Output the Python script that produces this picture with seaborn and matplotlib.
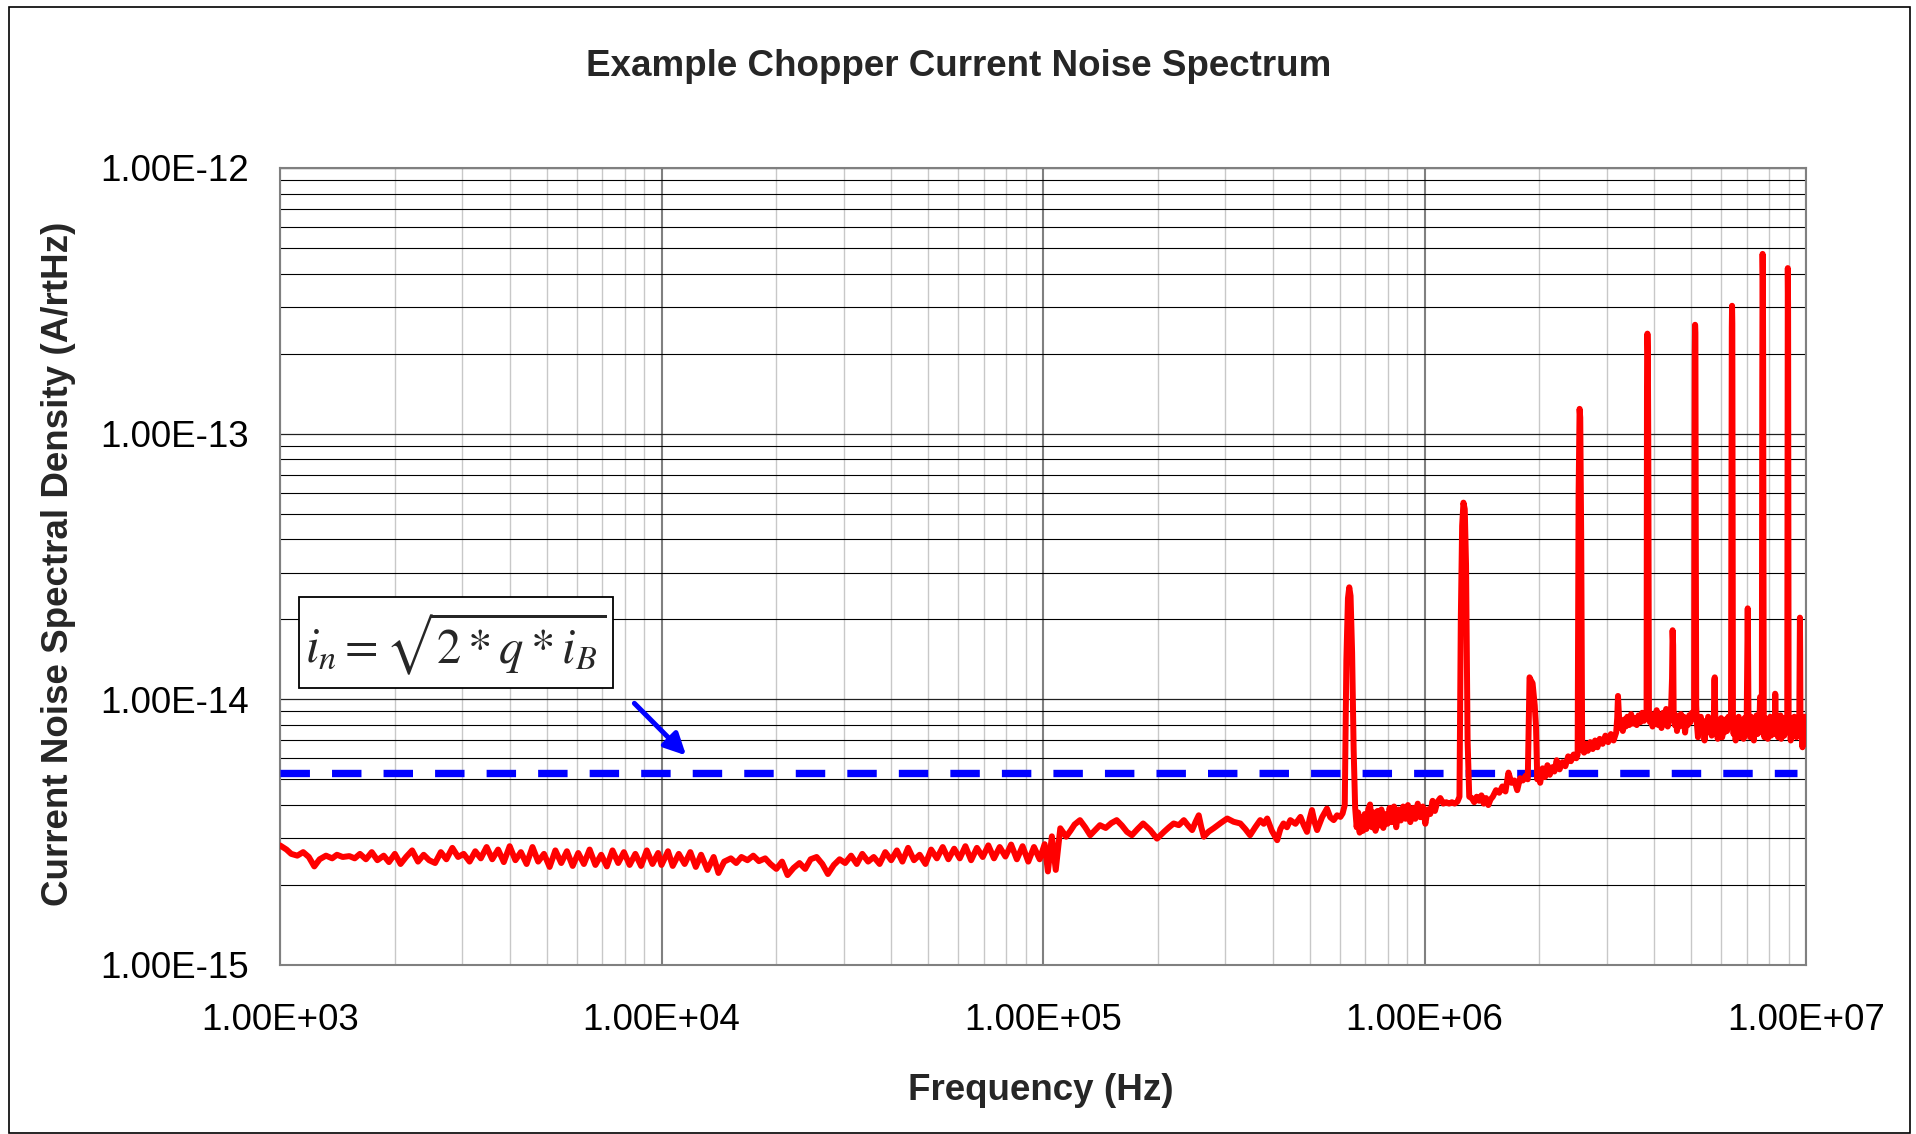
import numpy as np
import pandas as pd
import matplotlib
matplotlib.use("Agg")
import matplotlib.pyplot as plt
import seaborn as sns
from matplotlib.patches import Rectangle
from matplotlib.ticker import LogLocator, FixedLocator, FuncFormatter, NullFormatter

# ---------------- data (frequency in Hz, noise in fA/rtHz) ----------------
FREQ_1K_10K = [1000, 1040, 1070, 1110, 1150, 1190, 1230, 1270, 1320, 1370,
               1410, 1460, 1520, 1570, 1620, 1680, 1740, 1800, 1870, 1930,
               2000, 2070, 2140, 2220, 2300, 2380, 2460, 2550, 2640, 2730,
               2830, 2930, 3030, 3140, 3250, 3360, 3480, 3600, 3730, 3860,
               4000, 4140, 4280, 4430, 4590, 4750, 4920, 5090, 5270, 5460,
               5650, 5850, 6050, 6260, 6480, 6710, 6950, 7190, 7440, 7700,
               7970, 8250, 8540, 8840, 9150, 9470, 9800]
NOISE_1K_10K = [2.82, 2.72, 2.62, 2.58, 2.66, 2.55, 2.35, 2.50, 2.58, 2.52,
                2.60, 2.55, 2.57, 2.52, 2.62, 2.50, 2.66, 2.48, 2.58, 2.44,
                2.62, 2.40, 2.55, 2.70, 2.45, 2.60, 2.48, 2.42, 2.66, 2.50,
                2.76, 2.55, 2.62, 2.45, 2.68, 2.52, 2.78, 2.50, 2.72, 2.44,
                2.80, 2.48, 2.66, 2.40, 2.78, 2.45, 2.62, 2.34, 2.70, 2.42,
                2.68, 2.36, 2.64, 2.40, 2.72, 2.38, 2.60, 2.35, 2.70, 2.42,
                2.66, 2.38, 2.62, 2.36, 2.70, 2.40, 2.64]

FREQ_10K_110K = [10000, 10400, 10700, 11100, 11500, 11900, 12300, 12700, 13200, 13700,
                 14100, 14600, 15200, 15700, 16200, 16800, 17400, 18000, 18700, 19300,
                 20000, 20700, 21400, 22200, 23000, 23800, 24600, 25500, 26400, 27300,
                 28300, 29300, 30300, 31400, 32500, 33600, 34800, 36000, 37300, 38600,
                 40000, 41400, 42800, 44300, 45900, 47500, 49200, 50900, 52700, 54600,
                 56500, 58500, 60500, 62600, 64800, 67100, 69500, 71900, 74400, 77000,
                 79700, 82500, 85400, 88400, 91500, 94700, 98000, 101000, 103000, 105500,
                 108000]
NOISE_10K_110K = [2.38, 2.68, 2.36, 2.62, 2.40, 2.66, 2.34, 2.60, 2.28, 2.55,
                  2.22, 2.45, 2.52, 2.42, 2.55, 2.48, 2.58, 2.46, 2.52, 2.40,
                  2.30, 2.45, 2.18, 2.32, 2.42, 2.30, 2.50, 2.55, 2.40, 2.20,
                  2.38, 2.50, 2.42, 2.58, 2.40, 2.62, 2.45, 2.55, 2.40, 2.66,
                  2.48, 2.70, 2.45, 2.76, 2.48, 2.60, 2.40, 2.72, 2.52, 2.78,
                  2.50, 2.74, 2.52, 2.80, 2.48, 2.76, 2.55, 2.82, 2.52, 2.78,
                  2.56, 2.84, 2.50, 2.80, 2.45, 2.78, 2.50, 2.85, 2.25, 3.05,
                  2.28]

FREQ_110K_660K = [1.11e5, 1.13e5, 1.15e5, 1.18e5, 1.21e5, 1.25e5, 1.29e5, 1.33e5, 1.37e5, 1.41e5,
                  1.46e5, 1.51e5, 1.56e5, 1.61e5, 1.66e5, 1.71e5, 1.77e5, 1.83e5, 1.91e5, 1.99e5,
                  2.08e5, 2.14e5, 2.20e5, 2.27e5, 2.34e5, 2.40e5, 2.46e5, 2.51e5, 2.56e5, 2.60e5,
                  2.64e5, 2.72e5, 2.80e5, 2.92e5, 3.04e5, 3.16e5, 3.29e5, 3.39e5, 3.49e5, 3.60e5,
                  3.71e5, 3.79e5, 3.87e5, 3.98e5, 4.11e5, 4.19e5, 4.27e5, 4.36e5, 4.45e5, 4.59e5,
                  4.73e5, 4.83e5, 4.92e5, 5.00e5, 5.07e5, 5.15e5, 5.23e5, 5.39e5, 5.55e5, 5.66e5,
                  5.78e5, 5.90e5, 6.02e5, 6.10e5,
                  6.18e5, 6.24e5, 6.30e5, 6.35e5, 6.40e5, 6.46e5, 6.52e5, 6.58e5]
NOISE_110K_660K = [3.27, 3.15, 3.04, 3.20, 3.38, 3.51, 3.30, 3.08, 3.22, 3.36,
                   3.28, 3.42, 3.51, 3.35, 3.17, 3.08, 3.25, 3.41, 3.22, 2.99,
                   3.18, 3.30, 3.41, 3.36, 3.51, 3.35, 3.22, 3.45, 3.66, 3.30,
                   3.04, 3.18, 3.27, 3.42, 3.56, 3.46, 3.41, 3.25, 3.08, 3.30,
                   3.51, 3.40, 3.56, 3.20, 2.95, 3.25, 3.41, 3.30, 3.51, 3.40,
                   3.61, 3.35, 3.17, 3.55, 3.83, 3.45, 3.22, 3.60, 3.88, 3.60,
                   3.51, 3.66, 3.61, 3.72,
                   4.00, 14.0, 24.0, 26.4, 24.5, 15.0, 6.5, 3.9]

FREQ_660K_2M = [6.64e5, 6.70e5, 6.76e5, 6.83e5, 6.90e5, 6.97e5, 7.04e5, 7.12e5, 7.20e5, 7.28e5,
                7.36e5, 7.44e5, 7.53e5, 7.62e5, 7.71e5, 7.80e5, 7.90e5, 8.00e5, 8.10e5, 8.21e5,
                8.32e5, 8.43e5, 8.55e5, 8.67e5, 8.79e5, 8.92e5, 9.05e5, 9.18e5, 9.32e5, 9.46e5,
                9.60e5, 9.75e5, 9.90e5, 1.005e6, 1.02e6, 1.035e6, 1.05e6, 1.065e6, 1.08e6, 1.10e6,
                1.12e6, 1.14e6, 1.16e6, 1.18e6, 1.20e6, 1.22e6,
                1.235e6, 1.245e6, 1.255e6, 1.265e6, 1.275e6, 1.285e6, 1.297e6, 1.31e6,
                1.33e6, 1.35e6, 1.37e6, 1.39e6, 1.41e6, 1.43e6, 1.45e6, 1.47e6, 1.49e6, 1.51e6,
                1.54e6, 1.57e6, 1.60e6, 1.63e6, 1.66e6, 1.69e6, 1.72e6, 1.75e6, 1.78e6, 1.81e6,
                1.84e6, 1.865e6,
                1.875e6, 1.885e6, 1.90e6, 1.92e6, 1.945e6, 1.96e6, 1.975e6]
NOISE_660K_2M = [3.30, 3.75, 3.15, 3.60, 3.20, 3.70, 3.25, 3.85, 4.02, 3.30,
                 3.75, 3.20, 3.80, 3.35, 3.85, 3.28, 3.70, 3.40, 3.90, 3.45,
                 3.95, 3.30, 3.85, 3.50, 3.95, 3.55, 4.00, 3.45, 3.90, 3.55,
                 4.05, 3.60, 3.95, 3.40, 3.85, 3.70, 4.15, 3.80, 4.10, 4.25,
                 4.05, 4.10, 4.05, 4.10, 4.05, 4.12,
                 4.30, 20.0, 45.0, 55.0, 52.0, 32.0, 7.0, 4.30,
                 4.25, 4.10, 4.30, 4.15, 4.35, 4.05, 4.25, 4.00, 4.20, 4.30,
                 4.55, 4.45, 4.70, 4.50, 5.30, 4.85, 4.95, 4.55, 5.05, 4.95,
                 5.15, 5.00,
                 8.00, 12.1, 11.8, 11.5, 9.5, 7.9, 5.0]

FREQ_2M_4M = [1.99e6, 2.01e6, 2.04e6, 2.07e6, 2.10e6, 2.13e6, 2.16e6, 2.19e6, 2.22e6, 2.26e6,
              2.30e6, 2.34e6, 2.38e6, 2.42e6, 2.46e6, 2.50e6,
              2.52e6, 2.535e6, 2.55e6, 2.56e6, 2.575e6, 2.59e6,
              2.62e6, 2.65e6, 2.68e6, 2.72e6, 2.76e6, 2.80e6, 2.84e6, 2.88e6, 2.93e6, 2.98e6,
              3.03e6, 3.08e6, 3.13e6, 3.18e6,
              3.20e6, 3.215e6, 3.23e6, 3.25e6,
              3.28e6, 3.31e6, 3.34e6, 3.37e6, 3.40e6, 3.44e6, 3.48e6, 3.52e6, 3.56e6, 3.60e6,
              3.64e6, 3.68e6, 3.72e6, 3.76e6, 3.80e6,
              3.82e6, 3.83e6, 3.84e6, 3.85e6, 3.86e6, 3.875e6]
NOISE_2M_4M = [5.25, 4.85, 5.50, 5.10, 5.65, 5.20, 5.55, 5.35, 5.90, 5.45,
               5.80, 5.60, 6.10, 5.85, 6.20, 6.00,
               6.2, 60.0, 124.0, 115.0, 40.0, 6.5,
               6.3, 6.8, 6.4, 6.9, 6.5, 7.0, 6.6, 7.1, 6.8, 7.3,
               6.9, 7.4, 7.0, 7.5,
               8.5, 10.3, 9.0, 7.8,
               8.2, 7.6, 8.4, 7.9, 8.6, 8.0, 8.8, 8.1, 8.5, 8.0,
               8.7, 8.2, 8.9, 8.3, 8.5,
               8.6, 150.0, 238.0, 200.0, 90.0, 9.0]

FREQ_4M_6M = [3.90e6, 3.93e6, 3.96e6, 3.99e6, 4.02e6, 4.06e6, 4.10e6, 4.14e6, 4.18e6, 4.22e6,
              4.26e6, 4.30e6, 4.34e6, 4.38e6, 4.42e6,
              4.455e6, 4.47e6, 4.485e6, 4.50e6,
              4.53e6, 4.56e6, 4.59e6, 4.62e6, 4.66e6, 4.70e6, 4.74e6, 4.78e6, 4.82e6, 4.86e6,
              4.90e6, 4.94e6, 4.98e6, 5.02e6, 5.06e6, 5.09e6,
              5.10e6, 5.11e6, 5.12e6, 5.13e6, 5.14e6, 5.155e6,
              5.18e6, 5.21e6, 5.24e6, 5.27e6, 5.30e6, 5.34e6, 5.38e6, 5.42e6, 5.46e6, 5.50e6,
              5.54e6, 5.58e6, 5.62e6, 5.66e6, 5.70e6, 5.73e6,
              5.75e6, 5.765e6, 5.78e6, 5.80e6,
              5.83e6, 5.87e6, 5.91e6, 5.95e6, 5.99e6]
NOISE_4M_6M = [8.2, 8.8, 7.9, 8.6, 8.1, 9.1, 8.0, 8.7, 7.8, 8.9,
               8.2, 9.2, 7.9, 8.6, 8.4,
               12.0, 18.2, 16.0, 8.5,
               8.0, 8.7, 7.6, 8.5, 7.9, 8.8, 8.1, 8.6, 7.5, 8.4,
               8.0, 8.7, 8.2, 8.9, 8.5, 9.0,
               60.0, 200.0, 257.0, 240.0, 50.0, 9.5,
               8.0, 7.2, 8.5, 7.8, 8.6, 7.6, 8.3, 7.0, 8.2, 7.5,
               8.6, 7.8, 8.4, 7.3, 8.3, 7.6,
               11.8, 12.1, 9.0, 7.4,
               8.3, 7.1, 8.0, 7.4, 8.5]

FREQ_6M_8M = [6.03e6, 6.07e6, 6.11e6, 6.16e6, 6.21e6, 6.26e6, 6.31e6, 6.36e6,
              6.38e6, 6.39e6, 6.40e6, 6.41e6, 6.42e6, 6.435e6,
              6.46e6, 6.50e6, 6.54e6, 6.58e6, 6.62e6, 6.66e6, 6.70e6, 6.74e6, 6.78e6, 6.82e6,
              6.86e6, 6.90e6, 6.94e6, 6.99e6,
              7.02e6, 7.035e6, 7.05e6, 7.07e6,
              7.10e6, 7.14e6, 7.18e6, 7.22e6, 7.26e6, 7.30e6, 7.34e6, 7.38e6, 7.42e6, 7.46e6,
              7.50e6, 7.54e6, 7.58e6, 7.62e6, 7.66e6,
              7.68e6, 7.695e6, 7.71e6, 7.72e6, 7.735e6, 7.75e6,
              7.78e6, 7.82e6, 7.86e6, 7.90e6, 7.94e6, 7.98e6]
NOISE_6M_8M = [7.2, 8.1, 7.5, 8.4, 7.6, 8.6, 7.9, 8.8,
               80.0, 250.0, 303.0, 260.0, 60.0, 8.0,
               7.4, 8.4, 7.0, 8.2, 7.6, 8.6, 7.2, 8.0, 7.5, 8.3,
               7.1, 8.5, 7.7, 8.2,
               16.0, 22.0, 15.0, 7.8,
               8.4, 7.2, 8.6, 7.6, 8.2, 7.0, 8.5, 7.8, 8.7, 7.4,
               8.3, 7.5, 10.2, 8.0, 8.6,
               150.0, 475.0, 380.0, 200.0, 40.0, 8.0,
               7.2, 8.5, 7.6, 8.3, 7.1, 8.2]

FREQ_8M_10M = [8.02e6, 8.06e6, 8.10e6, 8.14e6, 8.18e6, 8.22e6, 8.26e6, 8.29e6,
               8.30e6, 8.315e6, 8.33e6,
               8.37e6, 8.41e6, 8.45e6, 8.49e6, 8.53e6, 8.57e6, 8.61e6, 8.65e6, 8.69e6, 8.73e6,
               8.77e6, 8.81e6, 8.85e6, 8.90e6, 8.93e6,
               8.95e6, 8.96e6, 8.975e6, 8.99e6, 9.005e6,
               9.04e6, 9.08e6, 9.12e6, 9.16e6, 9.20e6, 9.24e6, 9.28e6, 9.32e6, 9.36e6, 9.40e6,
               9.44e6, 9.48e6, 9.52e6, 9.56e6, 9.60e6,
               9.625e6, 9.64e6, 9.655e6, 9.67e6,
               9.71e6, 9.75e6, 9.79e6, 9.83e6, 9.87e6, 9.91e6, 9.95e6, 1.0e7]
NOISE_8M_10M = [7.5, 8.6, 7.3, 8.0, 7.6, 8.4, 7.4, 8.1,
                10.5, 10.4, 8.0,
                7.5, 8.6, 7.2, 8.3, 7.6, 8.7, 7.1, 8.4, 7.7, 8.5,
                7.3, 8.2, 7.6, 8.3, 8.8,
                200.0, 420.0, 300.0, 60.0, 8.0,
                7.6, 8.4, 7.0, 8.5, 7.8, 8.2, 7.3, 8.6, 7.5, 8.1,
                7.2, 8.3, 7.6, 8.4, 8.0,
                14.0, 20.3, 15.0, 8.5,
                7.8, 8.5, 6.6, 8.2, 7.9, 8.6, 8.3, 8.5]

SHOT_NOISE_HZ = [1.0e3, 9.46e6]
SHOT_NOISE_FA = [5.26, 5.26]

FA = 1e-15
TITLE = "Example Chopper Current Noise Spectrum"
XLABEL = "Frequency (Hz)"
YLABEL = "Current Noise Spectral Density (A/rtHz)"
FORMULA = r"$i_n = \sqrt{2 * q * i_B}$"
X_TICKS = [1e3, 1e4, 1e5, 1e6, 1e7]
Y_TICKS = [1e-15, 1e-14, 1e-13, 1e-12]
ARROW_TAIL = (8.49e3, 9.66e-15)
ARROW_HEAD = (1.16e4, 6.15e-15)

# ---------------- build tables ----------------
freq_all = (FREQ_1K_10K + FREQ_10K_110K + FREQ_110K_660K + FREQ_660K_2M +
            FREQ_2M_4M + FREQ_4M_6M + FREQ_6M_8M + FREQ_8M_10M)
noise_all = (NOISE_1K_10K + NOISE_10K_110K + NOISE_110K_660K + NOISE_660K_2M +
             NOISE_2M_4M + NOISE_4M_6M + NOISE_6M_8M + NOISE_8M_10M)

spec = pd.DataFrame({"freq": freq_all, "noise": np.array(noise_all) * FA})
shot = pd.DataFrame({"freq": SHOT_NOISE_HZ, "noise": np.array(SHOT_NOISE_FA) * FA})

# ---------------- style ----------------
sns.set_theme(style="white")
plt.rcParams["font.family"] = ["Liberation Sans", "DejaVu Sans"]
plt.rcParams["mathtext.fontset"] = "stix"

W, H = 1916, 1134
fig = plt.figure(figsize=(W / 100, H / 100), dpi=100)
fig.patch.set_facecolor("white")
ax = fig.add_axes([280 / W, 169 / H, 1526 / W, 797 / H])
ax.set_facecolor("white")

ax.set_xscale("log")
ax.set_yscale("log")

sns.lineplot(data=shot, x="freq", y="noise", ax=ax, color="#0000FF",
             linewidth=5.3, linestyle=(0, (4, 3)), estimator=None, sort=False,
             legend=False, zorder=3)
sns.lineplot(data=spec, x="freq", y="noise", ax=ax, color="#FF0000",
             linewidth=4.3, estimator=None, sort=False, legend=False, zorder=4,
             solid_joinstyle="round", solid_capstyle="round")

ax.set_xlim(1e3, 1e7)
ax.set_ylim(1e-15, 1e-12)

ax.xaxis.set_major_locator(FixedLocator(X_TICKS))
ax.yaxis.set_major_locator(FixedLocator(Y_TICKS))
ax.xaxis.set_minor_locator(LogLocator(base=10, subs=range(2, 10), numticks=100))
ax.yaxis.set_minor_locator(LogLocator(base=10, subs=range(2, 10), numticks=100))
fmt = FuncFormatter(lambda v, p: f"{v:.2E}")
ax.xaxis.set_major_formatter(fmt)
ax.yaxis.set_major_formatter(fmt)
ax.xaxis.set_minor_formatter(NullFormatter())
ax.yaxis.set_minor_formatter(NullFormatter())

ax.grid(which="major", axis="y", color="#202020", linewidth=0.9)
ax.grid(which="minor", axis="y", color="#000000", linewidth=0.8)
ax.grid(which="major", axis="x", color="#808080", linewidth=1.5)
ax.grid(which="minor", axis="x", color="#C8C8C8", linewidth=1.0)
ax.set_axisbelow(True)

ax.tick_params(which="major", direction="out", length=8.5, width=1.4,
               color="#808080", labelsize=26.5, labelcolor="black")
ax.tick_params(axis="y", which="major", pad=14)
ax.tick_params(axis="x", which="major", pad=19)
ax.tick_params(which="minor", length=0)
for s in ax.spines.values():
    s.set_visible(True)
    s.set_color("#808080")
    s.set_linewidth(1.5)

ax.set_xlabel("")
ax.set_ylabel("")

fig.text(959 / W, 1 - 67 / H, TITLE, ha="center", va="center",
         fontsize=26.5, fontweight="bold")
fig.text(1041 / W, 1 - 1090 / H, XLABEL, ha="center", va="center",
         fontsize=26.5, fontweight="bold")
fig.text(59 / W, 1 - 564 / H, YLABEL, ha="center", va="center",
         rotation=90, fontsize=26.5, fontweight="bold")

# formula box
fig.patches.append(Rectangle((299 / W, 1 - 688 / H), 314 / W, 91 / H,
                             transform=fig.transFigure, facecolor="white",
                             edgecolor="black", linewidth=1.3, zorder=5))
fig.text(456 / W, 1 - 644 / H, FORMULA, ha="center", va="center",
         fontsize=35, zorder=6)

# arrow
ax.annotate("", xy=ARROW_HEAD, xytext=ARROW_TAIL,
            arrowprops=dict(arrowstyle="-|>", color="#0000FF", lw=3.6,
                            mutation_scale=32, shrinkA=0, shrinkB=0),
            zorder=5)

# outer frame
fig.patches.append(Rectangle((9 / W, 1 / H), 1901 / W, 1126 / H,
                             transform=fig.transFigure, fill=False,
                             edgecolor="black", linewidth=1.2, zorder=0))

fig.savefig("out.png", dpi=100, facecolor="white")
